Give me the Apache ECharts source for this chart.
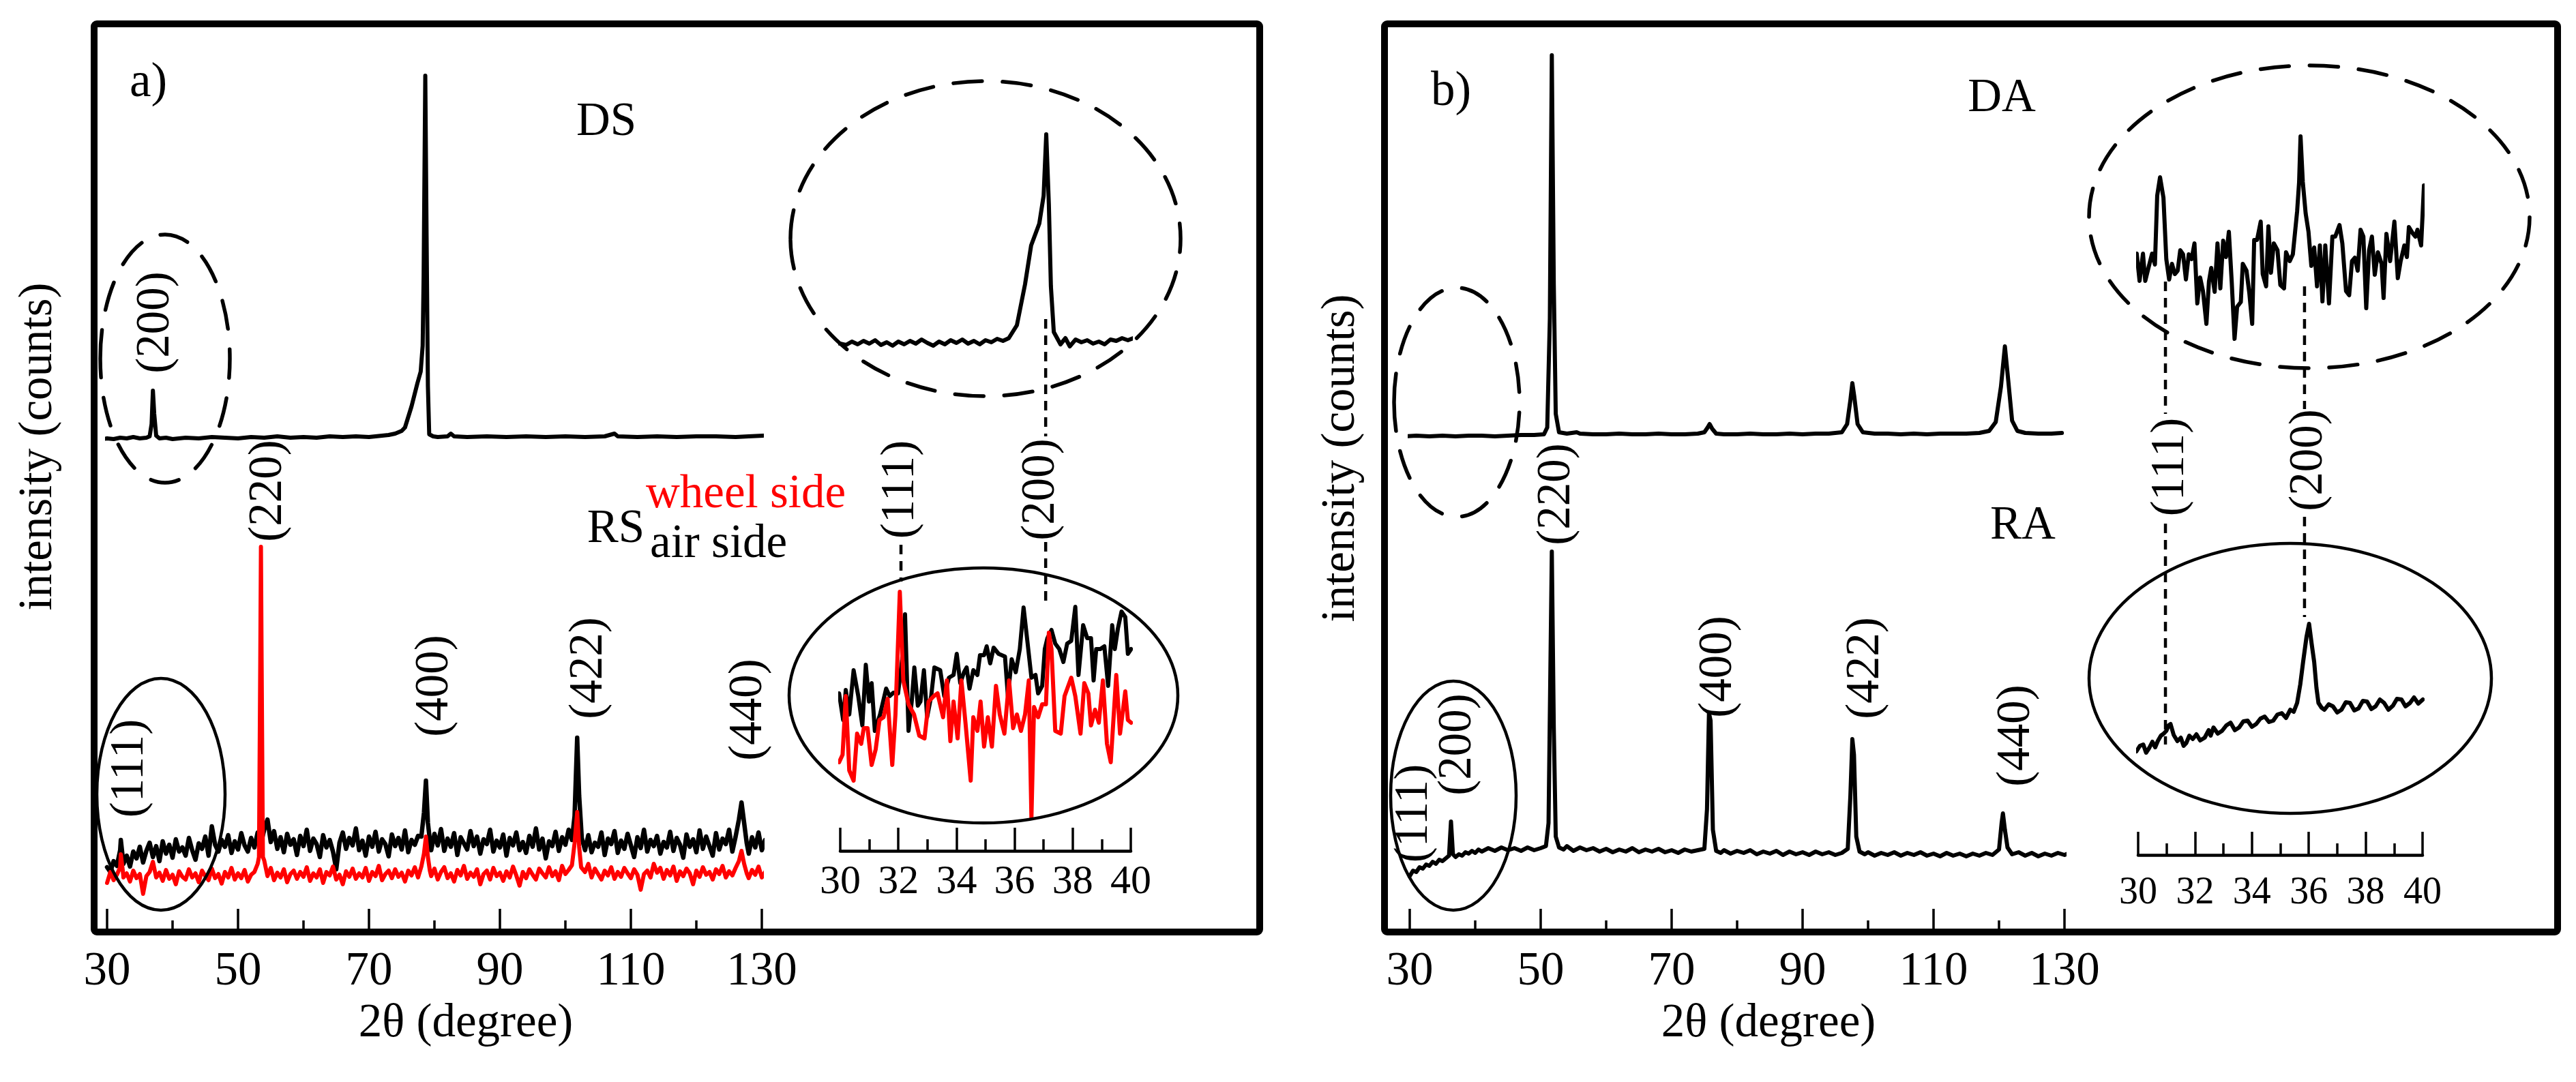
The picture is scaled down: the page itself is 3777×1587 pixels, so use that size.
<!DOCTYPE html>
<html><head><meta charset="utf-8">
<script src="https://cdn.jsdelivr.net/npm/echarts/dist/echarts.min.js"></script>
<style>html,body{margin:0;padding:0;background:#fff}#c{width:3777px;height:1587px}</style>
</head><body><div id="c"></div><script>
// ---------- tick labels ----------
const mainTicks = [30, 50, 70, 90, 110, 130];
const insetTicks = [30, 32, 34, 36, 38, 40];

// ---------- panel a) main pattern (2θ, intensity in offset counts) ----------
const dsMain = [[28.8,722],[30,724],[31,723],[32,725],[33,724],[34,726],[35,724],[36,725],[36.5,727],[36.8,745],[37.0,794],[37.2,760],[37.5,728],[38,724],[39,725],[40,723],[42,725],[44,724],[46,726],[48,725],[50,724],[52,726],[54,725],[56,727],[58,725],[60,726],[62,725],[64,727],[66,726],[68,727],[70,726],[72,728],[73,729],[74,731],[75,735],[75.5,740],[76.5,771],[77.4,805],[77.9,822],[78.2,860],[78.35,963],[78.6,1256],[78.8,1020],[79.0,801],[79.2,730],[79.8,727],[80.5,726],[82,727],[82.5,731],[83,727],[85,726],[88,727],[91,726],[94,727],[97,726],[100,727],[103,726],[106,727],[107.5,731],[108,727],[111,726],[114,727],[117,726],[120,727],[123,727],[126,726],[128,727],[130.2,728]];
const rsAirMain = [[30,95],[30.5,88],[31,104],[31.5,97],[32,120],[32.1,135],[32.5,100],[33,112],[33.5,96],[34,118],[34.5,108],[35,125],[35.5,102],[36,119],[36.5,131],[37,110],[37.5,126],[38,104],[38.5,133],[39,115],[39.5,128],[40,109],[40.5,136],[41,118],[41.5,124],[42,112],[42.5,138],[43,120],[43.5,106],[44,130],[44.5,122],[45,140],[45.5,112],[46,155],[46.5,128],[47,118],[47.5,135],[48,125],[48.5,142],[49,116],[49.5,133],[50,121],[50.5,145],[51,127],[51.5,118],[52,138],[52.5,124],[53,146],[53.5,130],[54,150],[54.5,165],[55,132],[55.5,148],[56,122],[56.5,139],[57,117],[57.5,144],[58,128],[58.5,136],[59,113],[59.5,141],[60,126],[60.5,150],[61,119],[61.5,137],[62,129],[62.5,110],[63,142],[63.5,124],[64,135],[64.5,118],[65,92],[65.5,131],[66,146],[66.5,122],[67,138],[67.5,127],[68,152],[68.5,120],[69,134],[69.5,112],[70,140],[70.5,125],[71,147],[71.5,118],[72,136],[72.5,129],[73,111],[73.5,143],[74,126],[74.5,138],[75,121],[75.5,149],[76,117],[76.5,135],[77,128],[77.5,141],[78,140],[78.4,175],[78.7,222],[79,160],[79.3,135],[79.5,120],[80,144],[80.5,127],[81,151],[81.5,119],[82,137],[82.5,125],[83,145],[83.5,113],[84,139],[84.5,130],[85,121],[85.5,148],[86,126],[86.5,140],[87,115],[87.5,136],[88,129],[88.5,150],[89,118],[89.5,134],[90,124],[90.5,143],[91,112],[91.5,138],[92,127],[92.5,146],[93,120],[93.5,132],[94,116],[94.5,141],[95,125],[95.5,152],[96,121],[96.5,137],[97,108],[97.5,133],[98,126],[98.5,147],[99,119],[99.5,139],[100,128],[100.5,150],[101,135],[101.4,170],[101.8,285],[102.1,200],[102.5,138],[103,120],[103.5,142],[104,117],[104.5,131],[105,125],[105.5,146],[106,113],[106.5,137],[107,129],[107.5,148],[108,116],[108.5,134],[109,122],[109.5,144],[110,127],[110.5,110],[111,139],[111.5,123],[112,150],[112.5,118],[113,135],[113.5,126],[114,141],[114.5,115],[115,132],[115.5,124],[116,147],[116.5,119],[117,138],[117.5,128],[118,109],[118.5,143],[119,125],[119.5,136],[120,117],[120.5,149],[121,122],[121.5,140],[122,126],[122.5,112],[123,145],[123.5,121],[124,137],[124.5,129],[125,150],[125.5,118],[126,140],[126.5,165],[126.9,190],[127.3,160],[127.7,130],[128,115],[128.5,139],[129,124],[129.5,146],[130,120],[130.5,135],[131,111],[131.5,142],[132,127],[132.5,148],[133,116],[133.5,98],[134,125],[134.5,143],[135,128]];
const rsWheelMain = [[30,72],[30.5,88],[31,76],[31.5,84],[32,95],[32.1,114],[32.4,90],[32.5,80],[33,86],[33.5,74],[34,90],[34.5,79],[35,85],[35.5,56],[36,82],[36.5,88],[37,103],[37.5,80],[38,87],[38.5,75],[39,91],[39.5,78],[40,84],[40.5,70],[41,89],[41.5,81],[42,77],[42.5,92],[43,80],[43.5,86],[44,73],[44.5,90],[45,82],[45.5,76],[46,93],[46.5,79],[47,85],[47.5,71],[48,88],[48.5,80],[49,94],[49.5,77],[50,86],[50.5,79],[51,91],[51.5,74],[52,84],[52.5,88],[53,100],[53.2,110],[53.4,400],[53.5,565],[53.6,400],[53.8,110],[54,105],[54.5,82],[55,94],[55.5,76],[56,87],[56.5,80],[57,92],[57.5,73],[58,85],[58.5,90],[59,78],[59.5,88],[60,81],[60.5,95],[61,75],[61.5,86],[62,80],[62.5,92],[63,72],[63.5,88],[64,83],[64.5,96],[65,77],[65.5,84],[66,70],[66.5,89],[67,81],[67.5,93],[68,78],[68.5,86],[69,80],[69.5,94],[70,75],[70.5,88],[71,82],[71.5,97],[72,76],[72.5,85],[73,90],[73.5,79],[74,92],[74.5,81],[75,87],[75.5,74],[76,90],[76.5,83],[77,95],[77.5,80],[78,96],[78.4,115],[78.7,140],[79,110],[79.3,90],[79.5,82],[80,93],[80.5,77],[81,88],[81.5,95],[82,79],[82.5,86],[83,74],[83.5,91],[84,83],[84.5,97],[85,78],[85.5,87],[86,81],[86.5,92],[87,70],[87.5,85],[88,90],[88.5,77],[89,94],[89.5,82],[90,87],[90.5,75],[91,89],[91.5,80],[92,96],[92.5,83],[93,68],[93.5,88],[94,79],[94.5,92],[95,84],[95.5,77],[96,93],[96.5,86],[97,80],[97.5,95],[98,82],[98.5,89],[99,76],[99.5,97],[100,85],[100.5,91],[101,98],[101.4,130],[101.8,176],[102.1,125],[102.4,95],[103,88],[103.5,100],[104,80],[104.5,93],[105,85],[105.5,77],[106,90],[106.5,83],[107,95],[107.5,78],[108,88],[108.5,81],[109,94],[109.5,86],[110,79],[110.5,92],[111,84],[111.5,62],[112,85],[112.5,90],[113,80],[113.5,100],[114,87],[114.5,94],[115,78],[115.5,91],[116,83],[116.5,96],[117,75],[117.5,89],[118,82],[118.5,93],[119,86],[119.5,70],[120,90],[120.5,81],[121,95],[121.5,84],[122,88],[122.5,77],[123,92],[123.5,85],[124,97],[124.5,80],[125,89],[125.5,83],[126,94],[126.5,104],[126.9,119],[127.3,100],[127.7,86],[128,79],[128.5,91],[129,84],[129.5,96],[130,80],[130.5,88],[131,93],[131.5,77],[132,90],[132.5,84],[133,95],[133.5,81],[134,89],[134.5,86],[135,92]];

// ---------- panel a) insets 30-40° ----------
const dsInset = [[29.9,745],[30.2,742],[30.4,747],[30.6,743],[30.8,748],[31.0,744],[31.2,749],[31.4,742],[31.6,746],[31.8,741],[32.0,747],[32.2,743],[32.4,748],[32.6,744],[32.8,750],[33.0,745],[33.2,741],[33.4,747],[33.6,743],[33.8,749],[34.0,745],[34.2,750],[34.4,744],[34.6,748],[34.8,743],[35.0,749],[35.2,746],[35.4,751],[35.6,748],[35.8,752],[36.08,771],[36.36,831],[36.57,888],[36.85,920],[37.0,961],[37.09,1051],[37.18,948],[37.25,828],[37.35,761],[37.58,743],[37.75,752],[37.9,740],[38.1,750],[38.3,746],[38.5,749],[38.7,744],[38.9,747],[39.1,743],[39.3,750],[39.5,748],[39.7,752],[39.9,749],[40.2,754]];
const rsAirInset = [[29.96,231],[30.10,192],[30.19,236],[30.31,200],[30.46,265],[30.62,227],[30.76,184],[30.88,273],[30.99,219],[31.08,246],[31.19,176],[31.37,200],[31.58,238],[31.70,227],[31.83,232],[31.99,231],[32.13,281],[32.23,347],[32.35,176],[32.46,219],[32.55,269],[32.67,213],[32.76,219],[32.88,265],[32.99,196],[33.13,227],[33.24,269],[33.44,265],[33.58,227],[33.74,254],[33.90,258],[34.01,289],[34.13,246],[34.26,262],[34.35,269],[34.45,238],[34.58,265],[34.72,258],[34.81,287],[34.95,287],[35.04,300],[35.16,275],[35.28,298],[35.45,289],[35.67,285],[35.77,227],[35.90,281],[36.04,262],[36.18,296],[36.31,357],[36.45,304],[36.58,254],[36.72,258],[36.81,231],[36.95,242],[37.04,296],[37.13,312],[37.27,324],[37.40,304],[37.54,296],[37.68,277],[37.81,304],[37.95,308],[38.09,358],[38.20,258],[38.36,331],[38.50,312],[38.63,312],[38.72,250],[38.81,296],[38.95,296],[39.09,300],[39.22,242],[39.36,331],[39.45,296],[39.56,327],[39.68,351],[39.81,343],[39.90,289],[40.01,296]];
const rsWheelInset = [[29.96,130],[30.08,141],[30.19,227],[30.31,118],[30.46,103],[30.58,172],[30.72,157],[30.81,180],[30.94,180],[31.08,126],[31.22,149],[31.35,192],[31.49,196],[31.63,223],[31.79,126],[31.90,200],[32.05,380],[32.17,250],[32.35,215],[32.54,200],[32.72,169],[32.90,165],[33.04,219],[33.22,227],[33.35,231],[33.54,196],[33.67,250],[33.79,161],[33.90,219],[34.04,165],[34.17,250],[34.31,188],[34.49,103],[34.58,196],[34.72,176],[34.83,219],[34.95,153],[35.08,196],[35.22,153],[35.36,242],[35.49,200],[35.65,172],[35.81,250],[35.95,180],[36.08,200],[36.22,176],[36.36,200],[36.49,250],[36.58,48],[36.67,211],[36.81,196],[36.95,215],[37.08,215],[37.18,320],[37.27,296],[37.40,176],[37.59,172],[37.72,227],[37.95,254],[38.09,227],[38.27,172],[38.40,246],[38.54,231],[38.63,184],[38.77,207],[38.90,188],[39.04,250],[39.18,157],[39.31,130],[39.50,258],[39.63,172],[39.81,234],[39.90,192],[40.01,188]];

// ---------- panel b) main pattern ----------
const daMain = [[29.1,727],[31,728],[33,727],[35,728],[37,727],[39,728],[41,728],[43,727],[45,728],[47,729],[49,729],[50.5,730],[51.0,740],[51.4,900],[51.7,1286],[52.0,950],[52.3,760],[52.8,733],[54,731],[55.5,733],[56,731],[58,730],[60,730],[62,731],[64,730],[66,730],[68,731],[70,730],[72,730],[74,731],[75,733],[75.5,740],[75.8,745],[76.2,738],[76.8,731],[78,730],[80,730],[82,731],[84,730],[86,730],[88,731],[90,730],[92,731],[94,731],[96,733],[96.8,745],[97.3,780],[97.6,805],[97.9,785],[98.4,745],[99.2,733],[101,731],[103,731],[105,730],[107,731],[109,730],[111,731],[113,731],[115,731],[117,732],[118.5,735],[119.5,748],[120.3,800],[120.9,859],[121.4,810],[122,750],[122.8,735],[124,732],[126,731],[128,731],[129.6,732]];
const raMain = [[29.1,78],[29.5,84],[30,82],[30.5,90],[31,88],[31.5,95],[32,93],[32.5,99],[33,97],[33.5,103],[34,100],[34.5,106],[35,104],[35.5,108],[36.0,112],[36.3,162],[36.6,114],[37,110],[37.5,114],[38,112],[38.5,117],[39,115],[39.5,119],[40,116],[40.5,121],[41,118],[42,123],[43,119],[44,124],[45,120],[46,123],[47,119],[48,124],[49,120],[50,123],[50.8,126],[51.2,160],[51.5,400],[51.7,558],[52.0,300],[52.3,140],[52.8,124],[53.5,121],[54,126],[55,119],[56,124],[57,120],[58,123],[59,118],[60,122],[61,117],[62,121],[63,118],[64,123],[65,117],[66,121],[67,118],[68,122],[69,117],[70,120],[71,116],[72,121],[73,118],[74,120],[75,122],[75.4,180],[75.7,321],[75.95,310],[76.3,150],[76.8,119],[77.5,116],[78,120],[79,115],[80,119],[81,116],[82,120],[83,114],[84,118],[85,115],[86,119],[87,113],[88,118],[89,114],[90,117],[91,113],[92,118],[93,114],[94,117],[95,113],[96,116],[96.9,122],[97.3,200],[97.6,283],[97.85,260],[98.2,140],[98.7,118],[99.5,114],[100,117],[101,112],[102,116],[103,113],[104,117],[105,112],[106,116],[107,113],[108,117],[109,112],[110,115],[111,111],[112,116],[113,112],[114,115],[115,111],[116,115],[117,112],[118,116],[119,113],[120,121],[120.4,160],[120.6,174],[120.9,150],[121.3,124],[122,114],[123,117],[124,112],[125,116],[126,111],[127,115],[128,112],[129,116],[130,113],[131,117],[132,112],[133,115],[134,111],[135,114],[135.5,113]];

// ---------- panel b) insets 30-40° ----------
const daInset = [[29.95,882],[30.05,842],[30.17,882],[30.25,842],[30.38,864],[30.49,882],[30.59,866],[30.67,967],[30.77,994],[30.89,964],[30.99,874],[31.09,844],[31.19,867],[31.29,852],[31.39,857],[31.48,887],[31.58,881],[31.68,844],[31.78,881],[31.88,874],[31.98,897],[32.08,809],[32.18,847],[32.28,827],[32.40,779],[32.49,841],[32.57,861],[32.69,826],[32.79,897],[32.89,831],[32.99,901],[33.09,877],[33.19,914],[33.29,841],[33.39,757],[33.48,804],[33.61,811],[33.68,867],[33.81,857],[33.91,824],[34.01,779],[34.08,902],[34.18,902],[34.31,929],[34.38,852],[34.50,834],[34.58,922],[34.67,854],[34.77,897],[34.90,887],[35.00,836],[35.13,831],[35.20,884],[35.33,871],[35.44,881],[35.59,944],[35.66,987],[35.71,1054],[35.79,987],[35.89,941],[35.99,914],[36.09,864],[36.19,891],[36.29,834],[36.39,894],[36.48,812],[36.58,894],[36.71,809],[36.83,907],[36.93,907],[37.08,924],[37.18,897],[37.31,827],[37.42,821],[37.52,871],[37.62,876],[37.72,857],[37.82,917],[37.92,907],[38.02,802],[38.12,887],[38.22,907],[38.32,851],[38.43,884],[38.56,867],[38.63,817],[38.73,911],[38.86,871],[39.01,929],[39.13,846],[39.23,871],[39.36,894],[39.45,877],[39.52,921],[39.65,912],[39.75,907],[39.82,917],[39.95,894],[40.05,982]];
const raInset = [[29.94,152],[30.06,160],[30.18,162],[30.28,150],[30.39,157],[30.50,166],[30.60,158],[30.69,167],[30.80,175],[30.90,178],[30.99,182],[31.07,190],[31.14,192],[31.25,176],[31.38,167],[31.50,172],[31.60,160],[31.69,164],[31.80,175],[31.92,170],[32.05,177],[32.18,168],[32.34,172],[32.48,183],[32.55,175],[32.65,187],[32.80,178],[32.95,182],[33.10,190],[33.25,194],[33.40,183],[33.55,187],[33.70,196],[33.85,197],[34.00,188],[34.15,192],[34.30,200],[34.45,203],[34.60,195],[34.75,197],[34.90,206],[35.05,208],[35.20,201],[35.35,213],[35.47,210],[35.59,223],[35.70,250],[35.80,283],[35.92,320],[36.01,339],[36.10,310],[36.19,283],[36.27,245],[36.34,223],[36.45,216],[36.55,213],[36.70,221],[36.85,218],[37.00,209],[37.15,213],[37.30,224],[37.45,223],[37.60,212],[37.75,215],[37.90,226],[38.05,225],[38.20,214],[38.35,218],[38.50,228],[38.65,223],[38.80,213],[38.96,219],[39.10,229],[39.26,228],[39.40,218],[39.56,223],[39.70,231],[39.85,222],[40.01,228]];

// ---------- annotations (data coordinates of each grid) ----------
const peakLabels = [
  {g:0, t:'(200)', x:37.5, v:894}, {g:0, t:'(220)', x:54.7, v:647}, {g:0, t:'(400)', x:80.1, v:361},
  {g:0, t:'(422)', x:103.6, v:387}, {g:0, t:'(440)', x:128.0, v:326}, {g:0, t:'(111)', x:33.5, v:240},
  {g:1, t:'(111)', x:32.09, v:530}, {g:1, t:'(200)', x:36.92, v:530},
  {g:2, t:'(220)', x:52.5, v:642}, {g:2, t:'(400)', x:77.2, v:389}, {g:2, t:'(422)', x:99.7, v:387},
  {g:2, t:'(440)', x:122.7, v:288}, {g:2, t:'(200)', x:37.4, v:275}, {g:2, t:'(111)', x:30.7, v:174},
  {g:3, t:'(111)', x:31.15, v:569}, {g:3, t:'(200)', x:36.02, v:579}
];
const guideLines = [
  {g:1, x:32.09, v:[449,395]}, {g:1, x:37.07, v:[780,608]}, {g:1, x:37.07, v:[453,364]},
  {g:3, x:30.96, v:[841,647]}, {g:3, x:30.96, v:[486,162]}, {g:3, x:35.85, v:[834,654]}, {g:3, x:35.85, v:[496,349]}
];

const FONT = 'Liberation Serif';
const chart = echarts.init(document.getElementById('c'));

function mainX(g) {
  return {
    type:'value', gridIndex:g, min:mainTicks[0], max:mainTicks[mainTicks.length-1],
    interval:mainTicks[1]-mainTicks[0],
    axisLine:{show:false},
    axisTick:{show:true, inside:true, length:34, lineStyle:{color:'#000', width:3.5}},
    minorTick:{show:true, splitNumber:2, length:17, lineStyle:{color:'#000', width:3.5}},
    splitLine:{show:false}, minorSplitLine:{show:false},
    axisLabel:{color:'#000', fontFamily:FONT, fontSize:69, margin:24},
    name:'2θ (degree)', nameLocation:'middle', nameGap:100,
    nameTextStyle:{color:'#000', fontFamily:FONT, fontSize:69, padding:[0,0,0,92]}
  };
}
function insetX(g, fs, margin) {
  return {
    type:'value', gridIndex:g, min:insetTicks[0], max:insetTicks[insetTicks.length-1],
    interval:insetTicks[1]-insetTicks[0],
    axisLine:{show:true, lineStyle:{color:'#000', width:4.5}},
    axisTick:{show:true, inside:true, length:34, lineStyle:{color:'#000', width:3.5}},
    minorTick:{show:true, splitNumber:2, length:17, lineStyle:{color:'#000', width:3.5}},
    splitLine:{show:false}, minorSplitLine:{show:false},
    axisLabel:{color:'#000', fontFamily:FONT, fontSize:fs, margin:margin}
  };
}
function mainY(g, h, padUp) {
  return {
    type:'value', gridIndex:g, min:0, max:h,
    axisLine:{show:false}, axisTick:{show:false}, axisLabel:{show:false}, splitLine:{show:false},
    name:'intensity (counts)', nameLocation:'middle', nameGap:66, nameRotate:90,
    nameTextStyle:{color:'#000', fontFamily:FONT, fontSize:69, padding:[0,0,0,padUp]}
  };
}
function insetY(g, h) {
  return {type:'value', gridIndex:g, min:0, max:h, show:false};
}
function line(name, data, xi, color, w) {
  return {name:name, type:'line', xAxisIndex:xi, yAxisIndex:xi, data:data, showSymbol:false,
    clip:false, lineStyle:{color:color, width:w, join:'round', cap:'round'}, itemStyle:{color:color}, z:3};
}

chart.setOption({
  animation:false,
  backgroundColor:'#fff',
  grid:[
    {left:157, top:36, width:960, height:1331},
    {left:1232, top:36, width:426, height:1212},
    {left:2067, top:36, width:960, height:1331},
    {left:3135, top:36, width:417, height:1218}
  ],
  xAxis:[mainX(0), insetX(1, 60, 16), mainX(2), insetX(3, 56, 28)],
  yAxis:[mainY(0, 1331, 93), insetY(1, 1212), mainY(2, 1331, 59), insetY(3, 1218)],
  series:[
    line('DS', dsMain, 0, '#000', 6),
    line('RS air side', rsAirMain, 0, '#000', 6.5),
    line('RS wheel side', rsWheelMain, 0, '#ff0000', 6),
    line('DS inset', dsInset, 1, '#000', 6),
    line('RS air side inset', rsAirInset, 1, '#000', 6),
    line('RS wheel side inset', rsWheelInset, 1, '#ff0000', 6),
    line('DA', daMain, 2, '#000', 6),
    line('RA', raMain, 2, '#000', 6),
    line('DA inset', daInset, 3, '#000', 6),
    line('RA inset', raInset, 3, '#000', 6)
  ]
});

function P(g, x, v) { return chart.convertToPixel({gridIndex:g}, [x, v]); }
const gfx = [];
// panel frames
gfx.push({type:'rect', shape:{x:138, y:35, width:1709, height:1332, r:4}, style:{fill:'none', stroke:'#000', lineWidth:10}, z:10});
gfx.push({type:'rect', shape:{x:2030, y:35, width:1720, height:1332, r:4}, style:{fill:'none', stroke:'#000', lineWidth:10}, z:10});
// ellipses
const dashE = {fill:'none', stroke:'#000', lineWidth:5.5, lineDash:[42,30], lineCap:'round'};
const solidE = {fill:'none', stroke:'#000', lineWidth:4.5};
[[242,526,95,182,dashE],[236,1165,94,170,solidE],[1445,350,286,231,dashE],[1442,1020,285,187,solidE],
 [2136,590,92,168,dashE],[2131,1167,92,168,solidE],[3386,318,323,222,dashE],[3358,995,295,198,solidE]]
 .forEach(e => gfx.push({type:'ellipse', shape:{cx:e[0], cy:e[1], rx:e[2], ry:e[3]}, style:Object.assign({}, e[4]), z:10}));
// guide dashed lines
guideLines.forEach(l => {
  const a = P(l.g, l.x, l.v[0]), b = P(l.g, l.x, l.v[1]);
  gfx.push({type:'line', shape:{x1:a[0], y1:a[1], x2:b[0], y2:b[1]}, style:{stroke:'#000', lineWidth:4.5, lineDash:[14,10]}, z:10});
});
// peak labels (rotated)
peakLabels.forEach(p => {
  const q = P(p.g, p.x, p.v);
  gfx.push({type:'text', x:q[0], y:q[1], rotation:Math.PI/2, z:11,
    style:{text:p.t, fill:'#000', fontFamily:FONT, fontSize:69, align:'center', verticalAlign:'middle'}});
});
// plain texts
function T(txt, x, y, opts) {
  gfx.push({type:'text', x:x, y:y, z:11, style:Object.assign({text:txt, fill:'#000', fontFamily:FONT, fontSize:69, align:'center', verticalAlign:'middle'}, opts||{})});
}
T('a)', 190, 122, {align:'left', fontSize:71});
T('DS', 889, 180);
T('RS', 903, 777);
T('wheel side', 947, 726, {align:'left', fill:'#ff0000'});
T('air side', 953, 799, {align:'left'});
T('b)', 2098, 135, {align:'left', fontSize:71});
T('DA', 2935, 145);
T('RA', 2966, 772);

chart.setOption({graphic:gfx});
</script></body></html>
